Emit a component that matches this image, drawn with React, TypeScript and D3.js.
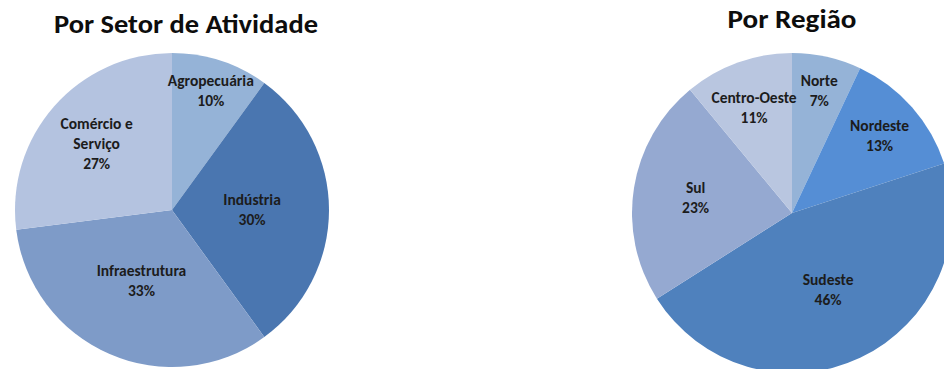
import React from "react";
import * as d3 from "d3";

// ---- Data ----
const sectorCategories = ["Agropecuária", "Indústria", "Infraestrutura", "Comércio e Serviço"];
const sectorValues = [10, 30, 33, 27];
const sectorLabelLines = [["Agropecuária", "10%"], ["Indústria", "30%"], ["Infraestrutura", "33%"], ["Comércio e", "Serviço", "27%"]];

const regionCategories = ["Norte", "Nordeste", "Sudeste", "Sul", "Centro-Oeste"];
const regionValues = [7, 13, 46, 23, 11];
const regionLabelLines = [["Norte", "7%"], ["Nordeste", "13%"], ["Sudeste", "46%"], ["Sul", "23%"], ["Centro-Oeste", "11%"]];

// ---- Styles / layout ----
const sectorColors = ["#95B3D7", "#4A76B0", "#7E9BC8", "#B4C3E0"];
const regionColors = ["#95B3D7", "#558ED5", "#4F81BD", "#95A9D1", "#B9C6E0"];
const sectorLabelRadius = [0.8, 0.51, 0.49, 0.64];
const regionLabelRadius = [0.78, 0.73, 0.53, 0.61, 0.7];

const FONT = "Calibri, Carlito, 'Open Sans', sans-serif";

type PieProps = {
  cx: number; cy: number; r: number;
  names: string[]; values: number[]; lines: string[][];
  colors: string[]; labelR: number[];
};

function Pie({ cx, cy, r, names, values, lines, colors, labelR }: PieProps) {
  const pie = d3.pie<number>().sort(null).value((d) => d);
  const arcs = pie(values);
  const arcGen = d3.arc<d3.PieArcDatum<number>>().innerRadius(0).outerRadius(r);
  const lineH = 20;
  return (
    <g transform={`translate(${cx},${cy})`}>
      {arcs.map((a, i) => (
        <path key={names[i]} d={arcGen(a) || ""} fill={colors[i]} />
      ))}
      {arcs.map((a, i) => {
        const lr = r * labelR[i];
        const [x, y] = d3.arc<d3.PieArcDatum<number>>().innerRadius(lr).outerRadius(lr).centroid(a);
        const n = lines[i].length;
        return (
          <text key={"t" + names[i]} textAnchor="middle" fontFamily={FONT} fontWeight="bold" fontSize={15.5} fill="#1c1c1c">
            {lines[i].map((s, j) => (
              <tspan key={j} x={x} y={y + (j - (n - 1) / 2) * lineH + 5}>{s}</tspan>
            ))}
          </text>
        );
      })}
    </g>
  );
}

export default function App() {
  return (
    <svg width={944} height={369} style={{ position: "absolute", left: 0, top: 0, background: "#fff" }}>
      <text x={186} y={33} textAnchor="middle" fontFamily={FONT} fontWeight="bold" fontSize={26} fill="#0d0d0d" textLength={264} lengthAdjust="spacingAndGlyphs">Por Setor de Atividade</text>
      <text x={792} y={28} textAnchor="middle" fontFamily={FONT} fontWeight="bold" fontSize={26} fill="#0d0d0d" textLength={129} lengthAdjust="spacingAndGlyphs">Por Região</text>
      <Pie cx={172} cy={210} r={157} names={sectorCategories} values={sectorValues} lines={sectorLabelLines} colors={sectorColors} labelR={sectorLabelRadius} />
      <Pie cx={792} cy={213} r={160} names={regionCategories} values={regionValues} lines={regionLabelLines} colors={regionColors} labelR={regionLabelRadius} />
    </svg>
  );
}
